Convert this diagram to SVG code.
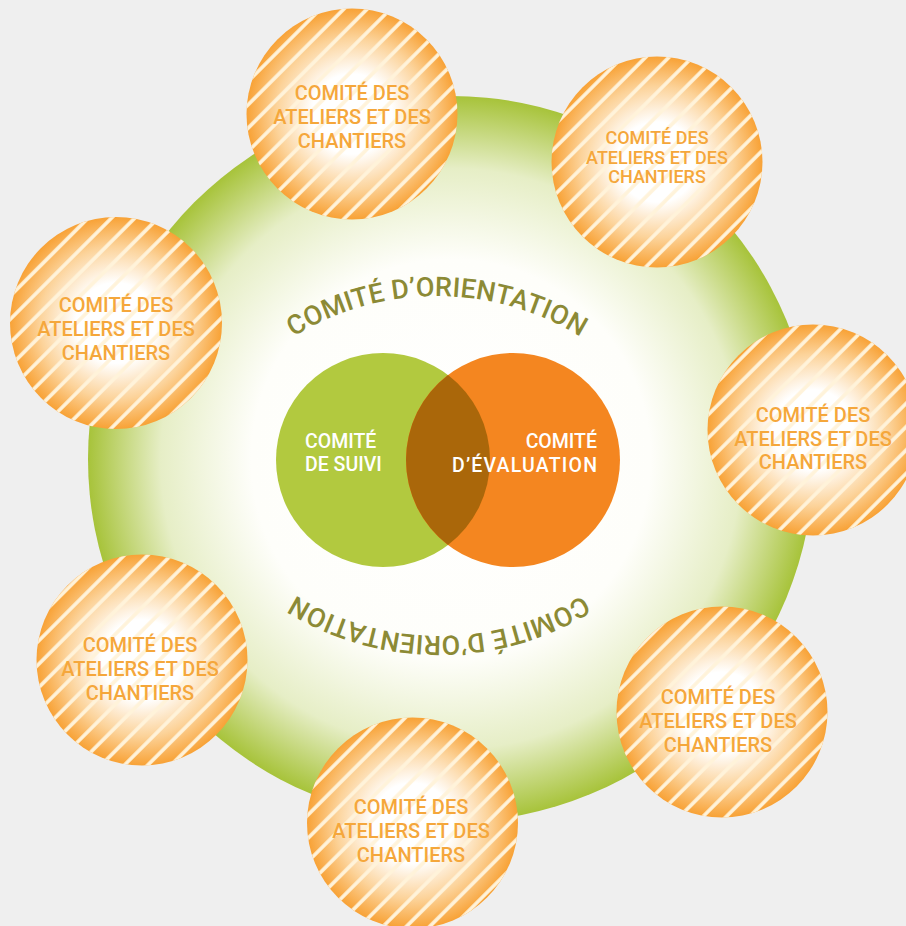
<svg xmlns="http://www.w3.org/2000/svg" xmlns:xlink="http://www.w3.org/1999/xlink" width="906" height="926" viewBox="0 0 906 926">
  <style>
    .atl { font-family: Roboto, "Liberation Sans", sans-serif; font-weight: 500; fill: #f5a73b; text-anchor: middle; }
    .venn { font-family: Roboto, "Liberation Sans", sans-serif; font-weight: 500; fill: #ffffff; font-size: 19.5px; }
    .orient { font-family: Roboto, "Liberation Sans", sans-serif; font-weight: 500; fill: #8c8a35; font-size: 27px; }
    .disc { fill: url(#orangeGrad); }
    .stripes { fill: url(#stripes); }
  </style>
  <defs>
    <radialGradient id="bigGrad" cx="0.5" cy="0.5" r="0.5">
      <stop offset="0" stop-color="#ffffff"/>
      <stop offset="0.55" stop-color="#fefefa"/>
      <stop offset="0.8" stop-color="#e6eec6"/>
      <stop offset="1" stop-color="#a7c33a"/>
    </radialGradient>
    <radialGradient id="orangeGrad" cx="0.5" cy="0.5" r="0.5">
      <stop offset="0" stop-color="#ffffff"/>
      <stop offset="0.38" stop-color="#ffffff"/>
      <stop offset="0.72" stop-color="#fcd39a"/>
      <stop offset="1" stop-color="#f8a236"/>
    </radialGradient>
    <pattern id="stripes" patternUnits="userSpaceOnUse" width="16.5" height="16.5" patternTransform="rotate(45)">
      <line x1="2" y1="-1" x2="2" y2="17.5" stroke="#fff3da" stroke-width="3.6"/>
    </pattern>
    <path id="arcTop" d="M200.6,432.5 A273,273 0 0 1 673.4,432.5"/>
  </defs>

  <rect x="0" y="0" width="906" height="926" fill="#efefef"/>

  <g id="comite-orientation">
    <circle cx="451" cy="459" r="363" fill="url(#bigGrad)"/>
    <text class="orient"><textPath xlink:href="#arcTop" href="#arcTop" startOffset="50%" text-anchor="middle" textLength="302" lengthAdjust="spacing">COMITÉ D’ORIENTATION</textPath></text>
    <g transform="rotate(180 438 466)">
      <text class="orient"><textPath xlink:href="#arcTop" href="#arcTop" startOffset="50%" text-anchor="middle" textLength="302" lengthAdjust="spacing">COMITÉ D’ORIENTATION</textPath></text>
    </g>
  </g>

  <g id="comite-suivi">
    <circle cx="383" cy="460" r="107" fill="#b2c93f"/>
    <text class="venn" x="305" y="448">COMITÉ</text>
    <text class="venn" x="305" y="471">DE SUIVI</text>
  </g>
  <g id="comite-evaluation">
    <circle cx="513" cy="460" r="107" fill="#f48620"/>
    <path d="M448,375 A107,107 0 0 1 448,545 A107,107 0 0 1 448,375 Z" fill="#aa670a"/>
    <text class="venn" x="597" y="448" text-anchor="end">COMITÉ</text>
    <text class="venn" x="597" y="472" text-anchor="end" textLength="145" lengthAdjust="spacing">D’ÉVALUATION</text>
  </g>

  <g id="atelier-1">
    <circle class="disc" cx="352" cy="114" r="105.5"/>
    <circle class="stripes" cx="352" cy="114" r="105.5"/>
    <text class="atl" font-size="20"><tspan x="352" y="100">COMITÉ DES</tspan><tspan x="352" y="124">ATELIERS ET DES</tspan><tspan x="352" y="148">CHANTIERS</tspan></text>
  </g>
  <g id="atelier-2">
    <circle class="disc" cx="657" cy="162" r="105.5"/>
    <circle class="stripes" cx="657" cy="162" r="105.5"/>
    <text class="atl" font-size="18"><tspan x="657" y="144">COMITÉ DES</tspan><tspan x="657" y="164">ATELIERS ET DES</tspan><tspan x="657" y="183">CHANTIERS</tspan></text>
  </g>
  <g id="atelier-3">
    <circle class="disc" cx="116" cy="323" r="106"/>
    <circle class="stripes" cx="116" cy="323" r="106"/>
    <text class="atl" font-size="20"><tspan x="116" y="312">COMITÉ DES</tspan><tspan x="116" y="336">ATELIERS ET DES</tspan><tspan x="116" y="360">CHANTIERS</tspan></text>
  </g>
  <g id="atelier-4">
    <circle class="disc" cx="813" cy="430" r="105.5"/>
    <circle class="stripes" cx="813" cy="430" r="105.5"/>
    <text class="atl" font-size="20"><tspan x="813" y="422">COMITÉ DES</tspan><tspan x="813" y="446">ATELIERS ET DES</tspan><tspan x="813" y="469">CHANTIERS</tspan></text>
  </g>
  <g id="atelier-5">
    <circle class="disc" cx="142" cy="660" r="105.5"/>
    <circle class="stripes" cx="142" cy="660" r="105.5"/>
    <text class="atl" font-size="20"><tspan x="140" y="652">COMITÉ DES</tspan><tspan x="140" y="676">ATELIERS ET DES</tspan><tspan x="140" y="700">CHANTIERS</tspan></text>
  </g>
  <g id="atelier-6">
    <circle class="disc" cx="722" cy="712" r="105.5"/>
    <circle class="stripes" cx="722" cy="712" r="105.5"/>
    <text class="atl" font-size="20"><tspan x="718" y="704">COMITÉ DES</tspan><tspan x="718" y="728">ATELIERS ET DES</tspan><tspan x="718" y="752">CHANTIERS</tspan></text>
  </g>
  <g id="atelier-7">
    <circle class="disc" cx="412.5" cy="823" r="105.5"/>
    <circle class="stripes" cx="412.5" cy="823" r="105.5"/>
    <text class="atl" font-size="20"><tspan x="411" y="814">COMITÉ DES</tspan><tspan x="411" y="838">ATELIERS ET DES</tspan><tspan x="411" y="862">CHANTIERS</tspan></text>
  </g>
</svg>
